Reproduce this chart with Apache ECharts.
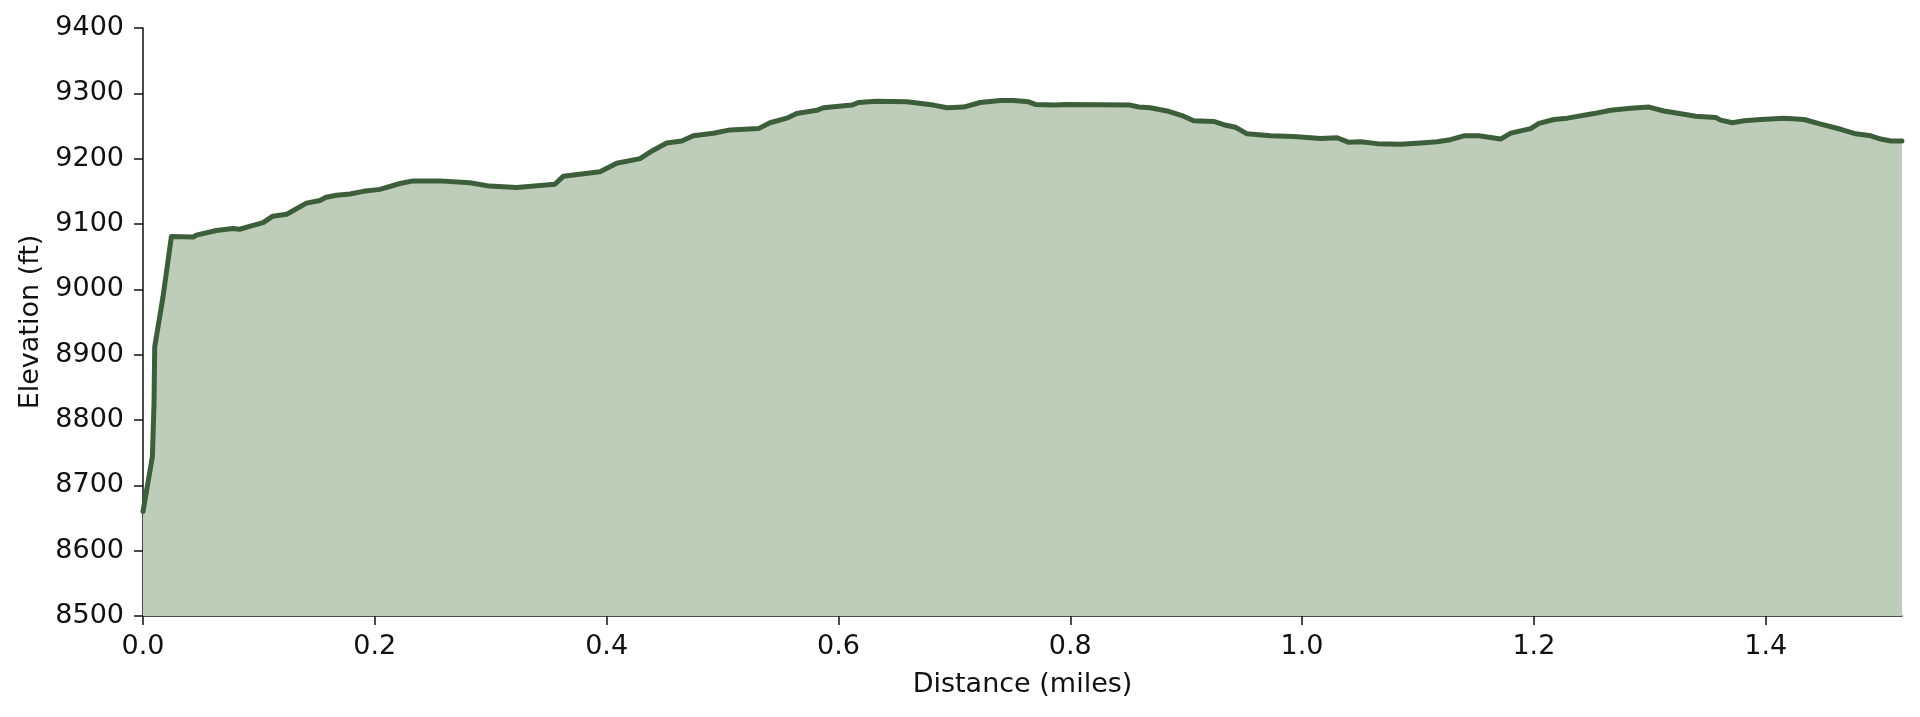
<!DOCTYPE html>
<html>
<head>
<meta charset="utf-8">
<script src="https://cdn.jsdelivr.net/npm/echarts@6/dist/echarts.min.js"></script>
<style>
html,body{margin:0;padding:0;background:#fff;}
#chart{width:1920px;height:717px;}
</style>
</head>
<body>
<div id="chart"></div>
<script>
const distanceMiles = [0, 0.0081, 0.0095, 0.0101, 0.0173, 0.0245, 0.0432, 0.046, 0.0632, 0.0777,
  0.0834, 0.095, 0.1036, 0.112, 0.124, 0.141, 0.1526, 0.158, 0.167, 0.1785,
  0.19, 0.2044, 0.2217, 0.233, 0.256, 0.282, 0.299, 0.3224, 0.3554, 0.3626,
  0.3943, 0.4087, 0.4288, 0.4403, 0.4519, 0.4648, 0.4748, 0.4921, 0.5065, 0.531,
  0.541, 0.5555, 0.564, 0.5813, 0.587, 0.6116, 0.6173, 0.6331, 0.659, 0.682,
  0.6936, 0.708, 0.7223, 0.7396, 0.751, 0.764, 0.7698, 0.7856, 0.7972, 0.8518,
  0.859, 0.869, 0.8835, 0.8978, 0.9065, 0.9237, 0.9324, 0.9425, 0.9526, 0.9727,
  0.9928, 1.0159, 1.0303, 1.0403, 1.0504, 1.0648, 1.085, 1.1022, 1.1166, 1.128,
  1.1396, 1.1525, 1.1713, 1.18, 1.1972, 1.2044, 1.2173, 1.2289, 1.2518, 1.2662,
  1.2835, 1.2993, 1.3122, 1.3295, 1.3396, 1.3569, 1.3612, 1.3713, 1.3813, 1.3957,
  1.4158, 1.4331, 1.4475, 1.4648, 1.4777, 1.4907, 1.4993, 1.508, 1.5176];
const elevationFt = [8660, 8744, 8825, 8912, 8989, 9081, 9080, 9083, 9090, 9093,
  9092, 9098, 9102, 9112, 9115, 9132, 9136, 9141, 9144, 9146,
  9150, 9153, 9162, 9166, 9166, 9163, 9158, 9156, 9161, 9173,
  9180, 9193, 9200, 9213, 9224, 9227, 9235, 9239, 9244, 9246,
  9255, 9262, 9269, 9274, 9278, 9282, 9286, 9288, 9287, 9282,
  9278, 9279, 9286, 9289, 9289, 9287, 9283, 9282, 9283, 9282,
  9279, 9278, 9273, 9265, 9258, 9257, 9252, 9248, 9238, 9235,
  9234, 9231, 9232, 9225, 9226, 9223, 9222, 9224, 9226, 9229,
  9235, 9235, 9230, 9239, 9246, 9254, 9260, 9262, 9269, 9274,
  9277, 9279, 9273, 9268, 9265, 9263, 9259, 9255, 9258, 9260,
  9262, 9260, 9253, 9245, 9238, 9235, 9230, 9227, 9227];
const xTicks = [0, 0.2, 0.4, 0.6, 0.8, 1.0, 1.2, 1.4];
const yTicks = [8500, 8600, 8700, 8800, 8900, 9000, 9100, 9200, 9300, 9400];
const xTitle = 'Distance (miles)';
const yTitle = 'Elevation (ft)';

const seriesData = distanceMiles.map((d, i) => [d, elevationFt[i]]);
const FONT = 'DejaVu Sans';
const FS = 27;
const chart = echarts.init(document.getElementById('chart'), null, {renderer: 'canvas'});
chart.setOption({
  animation: false,
  backgroundColor: '#ffffff',
  grid: {left: 143, right: 18, top: 28, bottom: 101, containLabel: false},
  xAxis: {
    type: 'value',
    min: 0,
    max: distanceMiles[distanceMiles.length - 1],
    name: xTitle,
    nameLocation: 'middle',
    nameGap: 55,
    nameTextStyle: {fontFamily: FONT, fontSize: FS, color: '#111'},
    axisLine: {show: true, onZero: false, lineStyle: {color: '#111', width: 1.5}},
    axisTick: {show: true, length: 9, inside: false, customValues: xTicks, lineStyle: {color: '#111', width: 1.5}},
    axisLabel: {customValues: xTicks, margin: 17, fontFamily: FONT, fontSize: FS, color: '#111',
      formatter: v => v.toFixed(1)},
    splitLine: {show: false}
  },
  yAxis: {
    type: 'value',
    min: 8500,
    max: 9400,
    interval: 100,
    name: yTitle,
    nameLocation: 'middle',
    nameRotate: 90,
    nameGap: 92,
    nameTextStyle: {fontFamily: FONT, fontSize: FS, color: '#111'},
    axisLine: {show: true, onZero: false, lineStyle: {color: '#111', width: 1.5}},
    axisTick: {show: true, length: 9, inside: false, customValues: yTicks, lineStyle: {color: '#111', width: 1.5}},
    axisLabel: {customValues: yTicks, margin: 19, fontFamily: FONT, fontSize: FS, color: '#111',
      formatter: v => String(v)},
    splitLine: {show: false}
  },
  series: [{
    type: 'line',
    data: seriesData,
    showSymbol: false,
    symbol: 'none',
    smooth: false,
    clip: true,
    lineStyle: {color: '#3d5e3a', width: 5, join: 'round', cap: 'round'},
    areaStyle: {color: '#becdb9', opacity: 1, origin: 'start'},
    z: 2
  }]
});
</script>
</body>
</html>
